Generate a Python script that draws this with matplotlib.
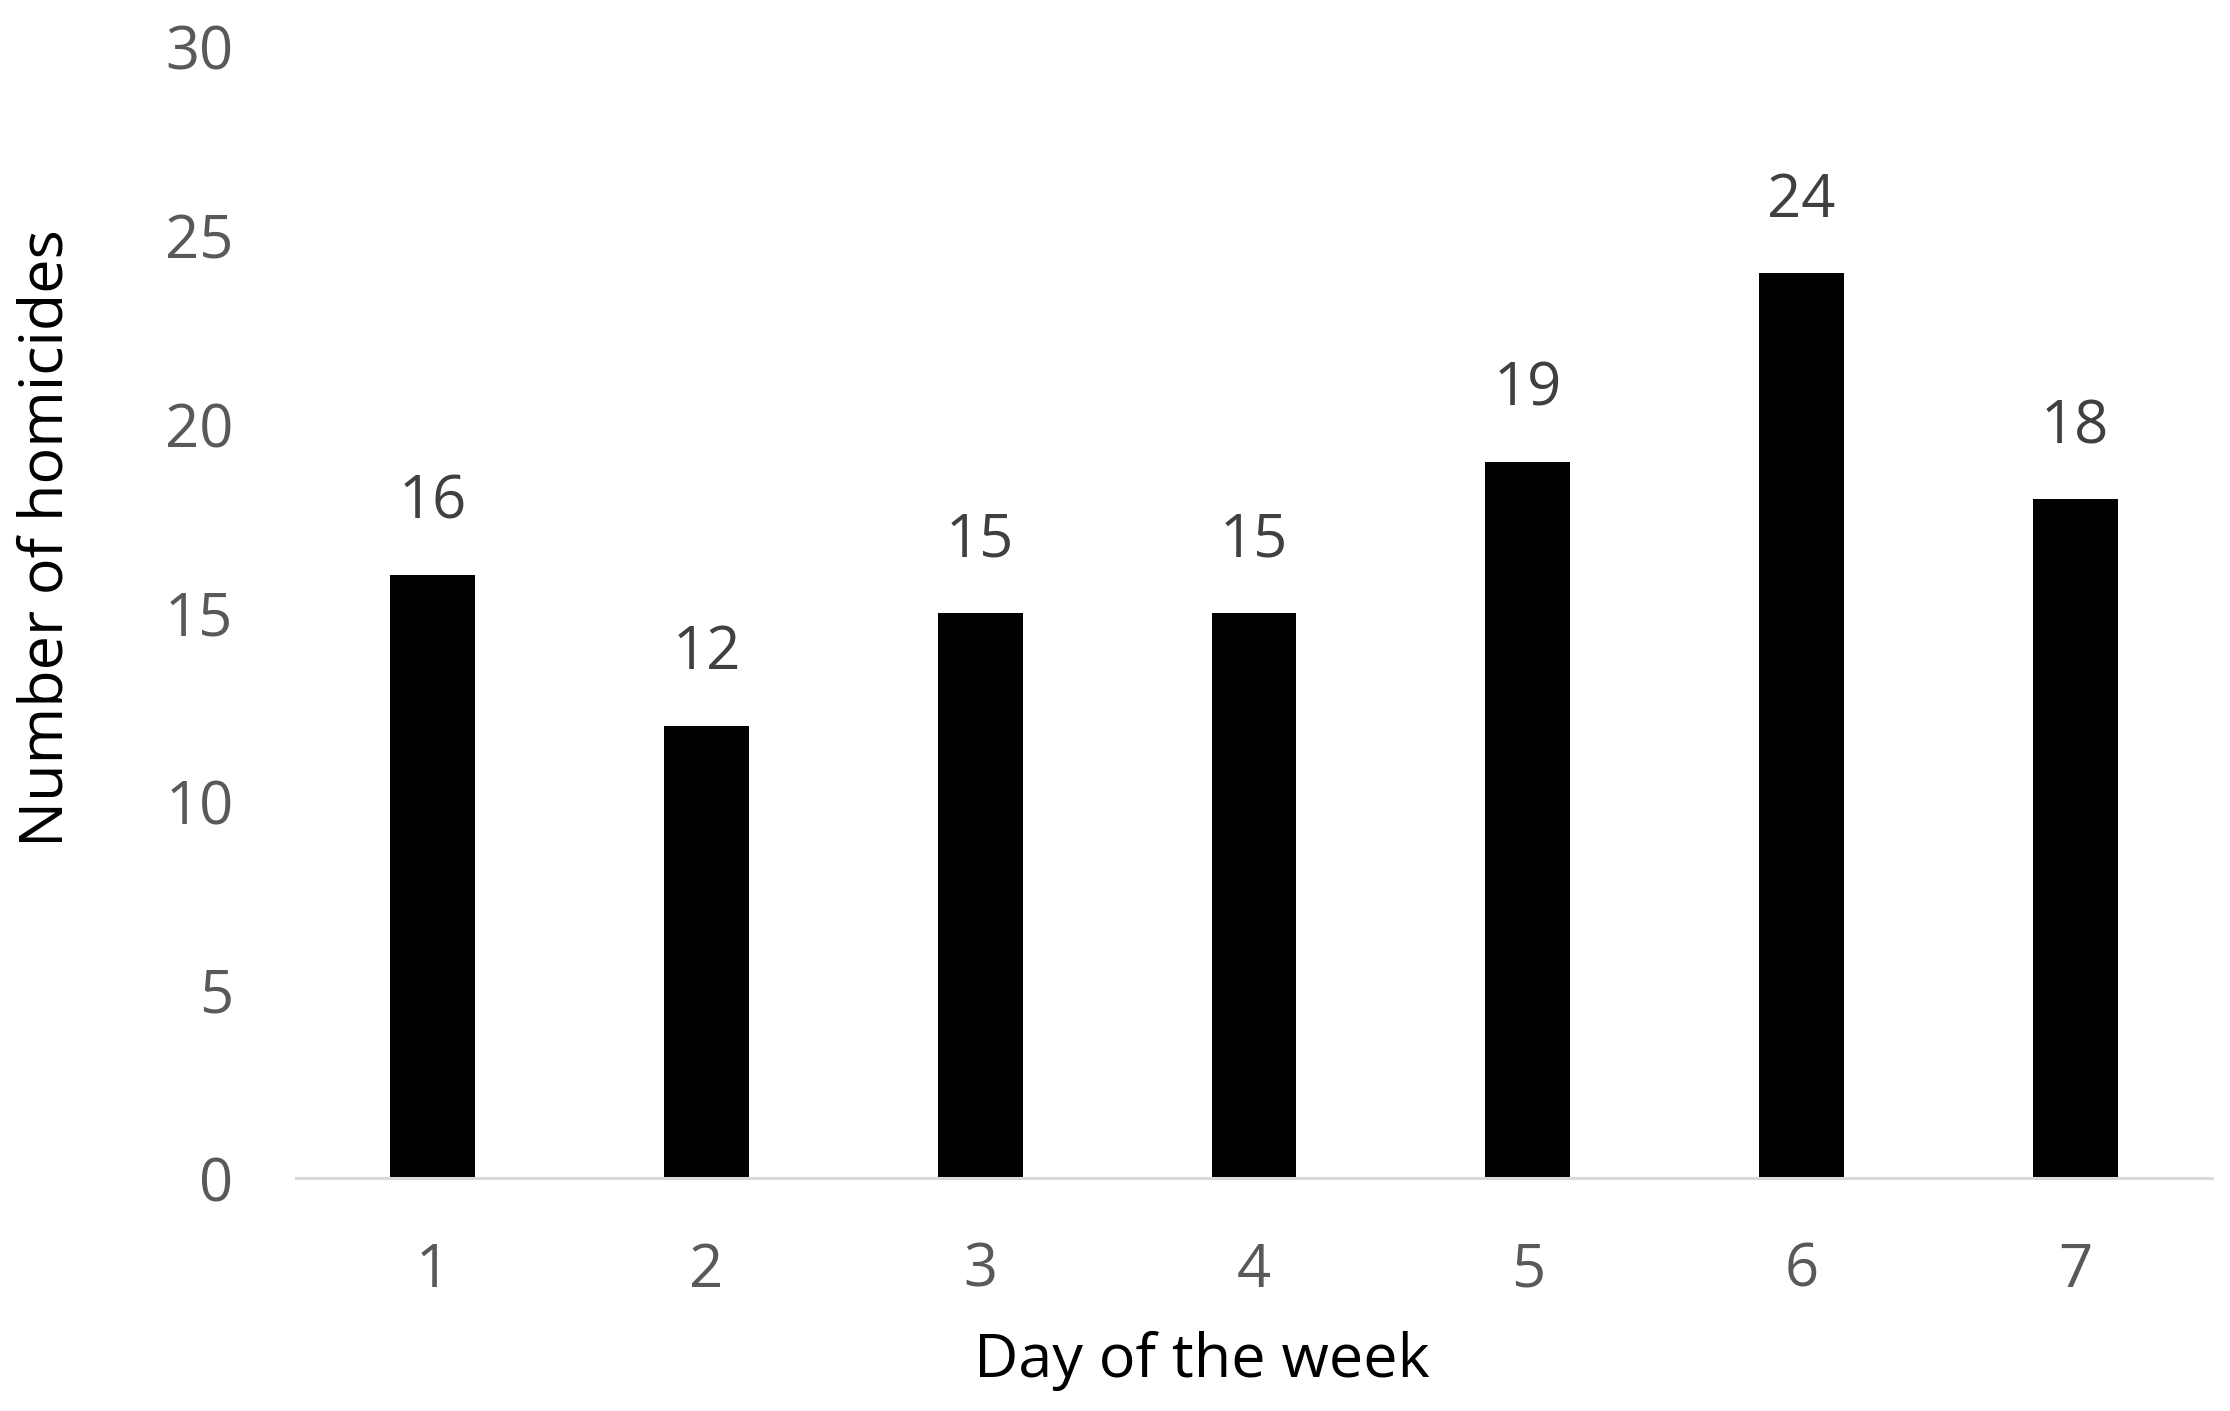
import matplotlib.pyplot as plt

days = [1, 2, 3, 4, 5, 6, 7]
homicides = [16, 12, 15, 15, 19, 24, 18]
y_ticks = [0, 5, 10, 15, 20, 25, 30]

plt.rcParams["font.family"] = ["Open Sans", "DejaVu Sans"]

fig = plt.figure(figsize=(22.3, 14.11), dpi=100)
ax = fig.add_axes([0.1327, 0.165, 0.992 - 0.1327, 0.9667 - 0.165])

bars = ax.bar(days, homicides, width=0.31, color="black")
for x, v in zip(days, homicides):
    ax.annotate(
        str(v),
        xy=(x, v),
        xytext=(0, 52),
        textcoords="offset points",
        ha="center",
        va="center",
        fontsize=43,
        color="#404040",
    )

ax.set_xlim(0.5, 7.5)
ax.set_ylim(0, 30)
ax.set_xticks(days)
ax.set_yticks(y_ticks)
ax.tick_params(axis="both", length=0, labelsize=43, labelcolor="#595959")
ax.tick_params(axis="x", pad=45)
ax.tick_params(axis="y", pad=45)

for side in ["top", "right", "left"]:
    ax.spines[side].set_visible(False)
ax.spines["bottom"].set_color("#d9d9d9")
ax.spines["bottom"].set_linewidth(2.2)

fig.text(0.539, 1 - 1361 / 1411, "Day of the week", ha="center", va="center",
         fontsize=44, color="black")
fig.text(47 / 2230, 1 - 538 / 1411, "Number of homicides", ha="center", va="center",
         rotation=90, fontsize=44, color="black")

fig.savefig("out.png", dpi=100)
